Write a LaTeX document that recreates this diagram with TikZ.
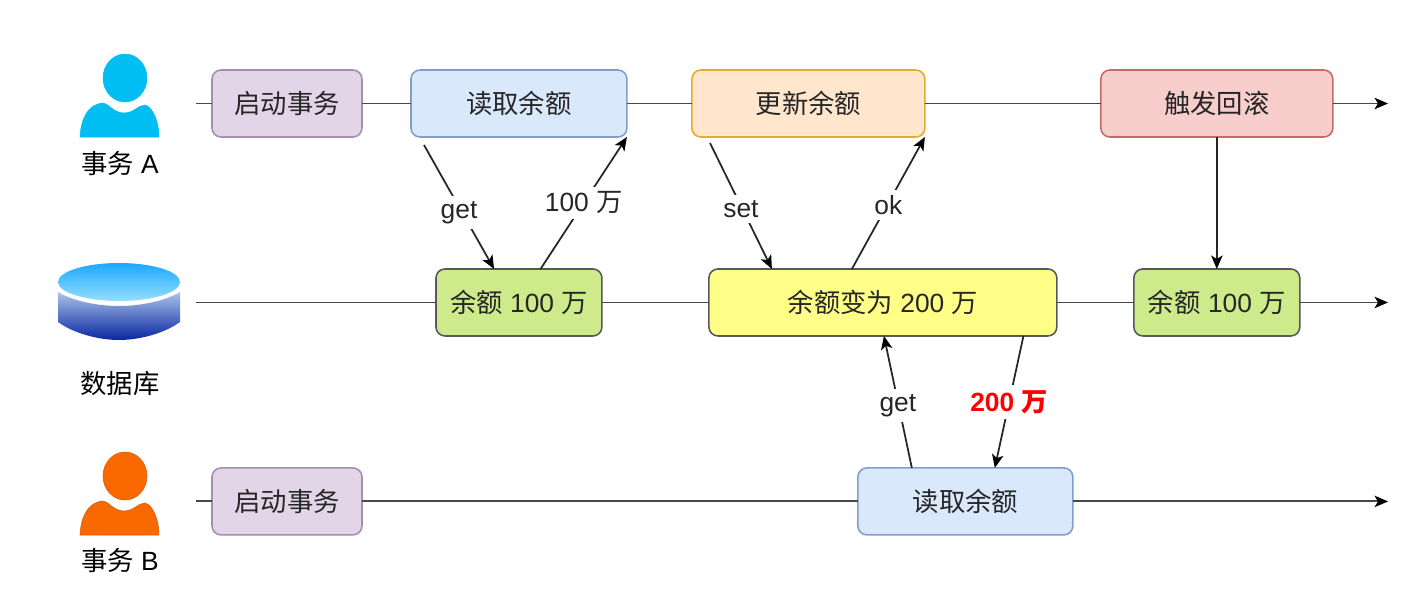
\documentclass[tikz,border=0pt]{standalone}
\usepackage{fontspec}
\setmainfont{Liberation Sans}
\newfontfamily\cjk{Noto Sans CJK SC}
\usepackage{tikz}
\usetikzlibrary{arrows.meta,calc,positioning}

\tikzset{
    person/.pic={
        \filldraw[pic actions, line width=0.3pt] (125,78) ellipse (22 and 24);
        \filldraw[pic actions, line width=0.3pt] (80,137) .. controls (81,118) and (88,105) .. (102,103)
            .. controls (109,103) and (113,113) .. (124,113)
            .. controls (134,113) and (138,105) .. (145,105)
            .. controls (153,107) and (159,122) .. (159,137) -- cycle;
    }
}

\begin{document}
\begin{tikzpicture}[
        x=0.02cm, y=-0.02cm,
        font=\fontsize{15}{18}\selectfont,
        box/.style={rectangle, rounded corners=0.18cm, line width=0.9pt, align=center, minimum height=1.34cm, inner sep=0pt, outer sep=0pt, text=black!85},
        purplebox/.style={box, draw=boxpurple, fill=fillpurple, minimum width=3cm},
        bluebox/.style={box, draw=boxblue, fill=fillblue, minimum width=4.32cm},
        orangebox/.style={box, draw=boxorange, fill=fillorange, minimum width=4.66cm},
        redbox/.style={box, draw=boxred, fill=fillred, minimum width=4.64cm},
        greenbox/.style={box, draw=boxgray, fill=fillgreen, minimum width=3.32cm},
        yellowbox/.style={box, draw=boxgray, fill=fillyellow, minimum width=6.96cm},
        tip/.style={-{Stealth[length=2.7mm, width=2.3mm, inset=0.7mm, black]}},
        lane/.style={line width=1.1pt, draw=black!72},
        arrow/.style={line width=1pt, tip, draw=black!85},
        tag/.style={fill=white, inner sep=3pt, text=black!85}
    ]
        \definecolor{boxpurple}{HTML}{A98BB8}
        \definecolor{fillpurple}{HTML}{E1D5E7}
        \definecolor{boxblue}{HTML}{7F9FCB}
        \definecolor{fillblue}{HTML}{DAE8FC}
        \definecolor{boxorange}{HTML}{E2AC2C}
        \definecolor{fillorange}{HTML}{FFE6CC}
        \definecolor{boxred}{HTML}{C56A66}
        \definecolor{fillred}{HTML}{F8CECC}
        \definecolor{boxgray}{HTML}{55585C}
        \definecolor{fillgreen}{HTML}{CDEB8B}
        \definecolor{fillyellow}{HTML}{FFFF88}
        \definecolor{userblue}{HTML}{00BEF2}
        \definecolor{userorange}{HTML}{FA6800}
        \definecolor{edgeorange}{HTML}{D9590A}
        \useasboundingbox (0,0) rectangle (1416,599);

        % actors
        \pic[fill=userblue, draw=userblue] (userA) at (0,0) {person};
        \pic[fill=userorange, draw=edgeorange] (userB) at (0,398) {person};
        \node (labelA) at (120,164) {{\cjk 事务} A};
        \node (labelDB) at (120,384) {{\cjk 数据库}};
        \node (labelB) at (120,561) {{\cjk 事务} B};

        % database
        \shade[top color={rgb,255:red,170;green,195;blue,235}, bottom color={rgb,255:red,8;green,38;blue,160}]
            (58,292) .. controls (75,302) and (100,306) .. (119,306)
            .. controls (138,306) and (163,302) .. (180,292)
            -- (180,322) .. controls (165,333) and (140,340) .. (119,340)
            .. controls (98,340) and (73,333) .. (58,322) -- cycle;
        \shade[top color={rgb,255:red,28;green,168;blue,255}, bottom color={rgb,255:red,150;green,222;blue,255}]
            (119,282) ellipse (61 and 19);

        % transaction A
        \node[purplebox] (startA) at (287,103.5) {\cjk 启动事务};
        \node[bluebox, right=0.98cm of startA] (readA) {\cjk 读取余额};
        \node[orangebox, right=1.3cm of readA] (update) {\cjk 更新余额};
        \node[redbox, right=3.52cm of update] (rollback) {\cjk 触发回滚};

        % database row
        \node[greenbox, below=2.64cm of readA] (balA) {{\cjk 余额} 100 {\cjk 万}};
        \node[yellowbox, right=2.14cm of balA] (balNew) {{\cjk 余额变为} 200 {\cjk 万}};
        \node[greenbox, below=2.64cm of rollback] (balB) {{\cjk 余额} 100 {\cjk 万}};

        % transaction B
        \node[purplebox, below=6.62cm of startA] (startB) {\cjk 启动事务};
        \node[bluebox, minimum width=4.3cm, right=9.92cm of startB] (readB) {\cjk 读取余额};

        % free ends
        \coordinate (laneA) at (196,0 |- startA);
        \coordinate (endA) at (1388,0 |- rollback);
        \coordinate (laneDB) at (196,0 |- balA);
        \coordinate (endDB) at (1388,0 |- balB);
        \coordinate (laneB) at (196,0 |- startB);
        \coordinate (endB) at (1388,0 |- readB);
        \coordinate (getA) at (424,145);
        \coordinate (setA) at (710,143);

        % lanes
        \foreach \a/\b in {laneA/startA, startA/readA, readA/update, update/rollback,
                laneDB/balA, balA/balNew, balNew/balB, laneB/startB, startB/readB}
            \draw[lane] (\a) -- (\b);
        \foreach \a/\b in {rollback/endA, balB/endDB, readB/endB}
            \draw[lane, tip] (\a) -- (\b);

        % requests and replies
        \draw[arrow] (getA) -- node[tag, yshift=-3pt] {get} ($(balA.north west)!0.35!(balA.north east)$);
        \draw[arrow] ($(balA.north west)!0.63!(balA.north east)$) -- node[tag] {100 {\cjk 万}} (readA.south east);
        \draw[arrow] (setA) -- node[tag, yshift=-1.7pt] {set} ($(balNew.north west)!0.181!(balNew.north east)$);
        \draw[arrow] ($(balNew.north west)!0.411!(balNew.north east)$) -- node[tag, yshift=-1pt] {ok} (update.south east);
        \draw[arrow] (rollback) -- (balB);
        \draw[arrow] ($(readB.north west)!0.251!(readB.north east)$) -- node[tag, yshift=-2pt] {get} ($(balNew.south west)!0.503!(balNew.south east)$);
        \draw[arrow] ($(balNew.south west)!0.904!(balNew.south east)$) -- node[tag, text=red, font=\fontsize{15}{18}\selectfont\bfseries] {200 {\cjk 万}} ($(readB.north west)!0.637!(readB.north east)$);
    \end{tikzpicture}
\end{document}
